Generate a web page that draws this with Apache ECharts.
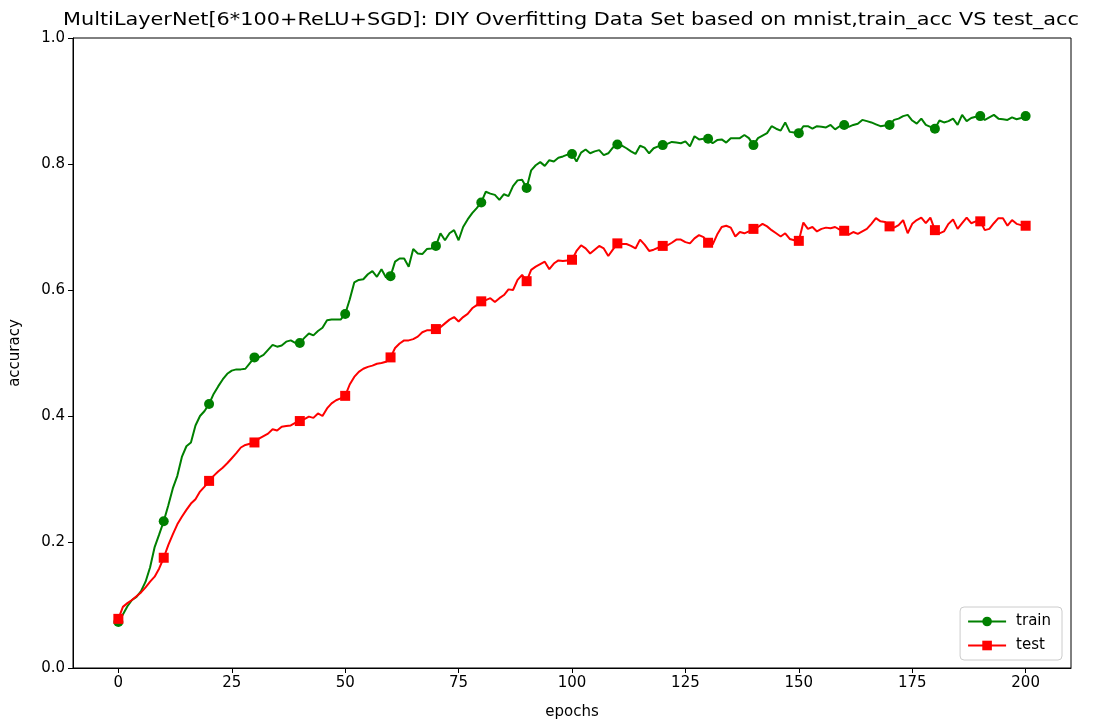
<!DOCTYPE html>
<html>
<head>
<meta charset="utf-8">
<script src="https://cdn.jsdelivr.net/npm/echarts@6/dist/echarts.min.js"></script>
<style>
html,body{margin:0;padding:0;background:#fff;}
#main{width:1097px;height:728px;}
</style>
</head>
<body>
<div id="main"></div>
<script>
const titleText = 'MultiLayerNet[6*100+ReLU+SGD]: DIY Overfitting Data Set based on mnist,train_acc VS test_acc';
const seriesNames = ['train', 'test'];
const xTicks = [0, 25, 50, 75, 100, 125, 150, 175, 200];
const yTicks = [0.0, 0.2, 0.4, 0.6, 0.8, 1.0];

const trainAcc = [
0.073,0.085,0.098,0.108,0.113,0.122,0.137,0.160,0.192,0.212,
0.233,0.258,0.285,0.305,0.335,0.352,0.358,0.385,0.400,0.408,
0.419,0.435,0.447,0.458,0.467,0.472,0.474,0.474,0.475,0.484,
0.493,0.493,0.497,0.505,0.513,0.510,0.512,0.518,0.520,0.516,
0.516,0.524,0.531,0.528,0.535,0.540,0.552,0.553,0.553,0.553,
0.562,0.585,0.612,0.616,0.617,0.625,0.630,0.621,0.633,0.620,
0.622,0.645,0.650,0.650,0.637,0.665,0.658,0.657,0.665,0.666,
0.670,0.690,0.679,0.690,0.695,0.679,0.700,0.712,0.722,0.730,
0.739,0.756,0.753,0.751,0.743,0.752,0.749,0.765,0.774,0.775,
0.762,0.790,0.798,0.803,0.797,0.806,0.804,0.810,0.812,0.815,
0.816,0.804,0.818,0.823,0.817,0.820,0.822,0.814,0.817,0.826,
0.831,0.829,0.825,0.820,0.816,0.829,0.826,0.817,0.825,0.828,
0.830,0.832,0.835,0.834,0.833,0.836,0.828,0.844,0.839,0.840,
0.840,0.833,0.838,0.839,0.834,0.841,0.841,0.841,0.846,0.841,
0.830,0.841,0.845,0.849,0.860,0.856,0.853,0.866,0.851,0.850,
0.849,0.860,0.860,0.856,0.860,0.859,0.858,0.862,0.855,0.860,
0.862,0.859,0.862,0.864,0.870,0.868,0.866,0.863,0.860,0.861,
0.862,0.870,0.872,0.876,0.878,0.869,0.864,0.872,0.862,0.859,
0.856,0.869,0.866,0.868,0.872,0.862,0.878,0.868,0.873,0.875,
0.876,0.870,0.874,0.878,0.872,0.871,0.870,0.874,0.871,0.873,
0.876
];

const testAcc = [
0.078,0.097,0.103,0.108,0.114,0.120,0.128,0.137,0.145,0.158,
0.175,0.195,0.212,0.228,0.240,0.251,0.261,0.268,0.280,0.288,
0.297,0.305,0.312,0.318,0.325,0.333,0.341,0.350,0.354,0.356,
0.358,0.364,0.368,0.372,0.379,0.377,0.383,0.384,0.385,0.389,
0.392,0.395,0.399,0.397,0.404,0.400,0.412,0.420,0.425,0.428,
0.432,0.450,0.462,0.470,0.475,0.478,0.480,0.483,0.484,0.486,
0.493,0.508,0.515,0.520,0.520,0.522,0.526,0.533,0.536,0.536,
0.538,0.541,0.547,0.553,0.557,0.550,0.557,0.562,0.571,0.576,
0.582,0.584,0.587,0.581,0.587,0.592,0.601,0.600,0.616,0.624,
0.614,0.632,0.637,0.641,0.645,0.633,0.642,0.647,0.646,0.647,
0.648,0.662,0.671,0.666,0.658,0.664,0.670,0.666,0.654,0.664,
0.674,0.673,0.673,0.670,0.666,0.680,0.672,0.662,0.664,0.667,
0.670,0.671,0.675,0.680,0.680,0.676,0.674,0.682,0.687,0.684,
0.675,0.672,0.688,0.700,0.702,0.699,0.685,0.692,0.690,0.693,
0.697,0.700,0.705,0.701,0.695,0.690,0.685,0.690,0.681,0.679,
0.678,0.707,0.697,0.700,0.693,0.697,0.699,0.698,0.700,0.696,
0.694,0.688,0.692,0.689,0.693,0.697,0.705,0.714,0.709,0.708,
0.701,0.699,0.703,0.711,0.690,0.705,0.711,0.715,0.706,0.715,
0.695,0.690,0.693,0.705,0.712,0.697,0.706,0.715,0.706,0.709,
0.709,0.695,0.697,0.706,0.714,0.714,0.702,0.711,0.705,0.703,
0.702
];

const markEvery = 10;

function pairs(arr) { return arr.map((v, i) => [i, v]); }

const chart = echarts.init(document.getElementById('main'), null, {renderer: 'canvas'});
const FONT = 'DejaVu Sans';
const symSize = (val, p) => (p.dataIndex % markEvery === 0 ? 10 : 0);

chart.setOption({
  animation: false,
  backgroundColor: '#fff',
  textStyle: {fontFamily: FONT},
  graphic: [{
    type: 'text',
    x: 571, y: 20,
    scaleX: 1.125,
    style: {
      text: titleText,
      font: '18.5px "DejaVu Sans"',
      fill: '#000',
      textAlign: 'center',
      textVerticalAlign: 'middle'
    }
  }],
  grid: {
    left: 71, right: 26, top: 38, bottom: 60,
    show: true, borderColor: '#000', borderWidth: 1, backgroundColor: 'transparent',
    containLabel: false
  },
  legend: {
    orient: 'vertical',
    right: 35, bottom: 68,
    itemWidth: 38, itemHeight: 12, itemGap: 9,
    padding: [7, 11, 7, 7],
    borderColor: '#cccccc', borderWidth: 1, borderRadius: 4,
    backgroundColor: '#fff',
    textStyle: {fontFamily: FONT, fontSize: 15, color: '#000', padding: [0, 0, 0, 5]},
    data: seriesNames
  },
  xAxis: {
    type: 'value', min: -10, max: 210,
    name: 'epochs', nameLocation: 'middle', nameGap: 37,
    nameTextStyle: {fontFamily: FONT, fontSize: 15, color: '#000'},
    axisLine: {show: true, onZero: false, lineStyle: {color: '#000', width: 1}},
    axisTick: {show: true, inside: false, length: 5, lineStyle: {color: '#000'}, customValues: xTicks},
    axisLabel: {show: true, color: '#000', fontSize: 15, fontFamily: FONT, margin: 8, customValues: xTicks,
      formatter: v => String(v)},
    splitLine: {show: false}
  },
  yAxis: {
    type: 'value', min: 0, max: 1, interval: 0.2,
    name: 'accuracy', nameLocation: 'middle', nameGap: 50, nameRotate: 90,
    nameTextStyle: {fontFamily: FONT, fontSize: 15, color: '#000'},
    axisLine: {show: true, onZero: false, lineStyle: {color: '#000', width: 1}},
    axisTick: {show: true, inside: false, length: 5, lineStyle: {color: '#000'}, customValues: yTicks},
    axisLabel: {show: true, color: '#000', fontSize: 15, fontFamily: FONT, margin: 8, customValues: yTicks,
      formatter: v => v.toFixed(1)},
    splitLine: {show: false}
  },
  series: [
    {
      name: seriesNames[0], type: 'line', data: pairs(trainAcc),
      color: '#008000',
      lineStyle: {color: '#008000', width: 2},
      itemStyle: {color: '#008000'},
      symbol: 'circle', symbolSize: symSize,
      showSymbol: true, showAllSymbol: true,
      z: 2
    },
    {
      name: seriesNames[1], type: 'line', data: pairs(testAcc),
      color: '#ff0000',
      lineStyle: {color: '#ff0000', width: 2},
      itemStyle: {color: '#ff0000'},
      symbol: 'rect', symbolSize: symSize,
      showSymbol: true, showAllSymbol: true,
      z: 3
    }
  ]
});
</script>
</body>
</html>
